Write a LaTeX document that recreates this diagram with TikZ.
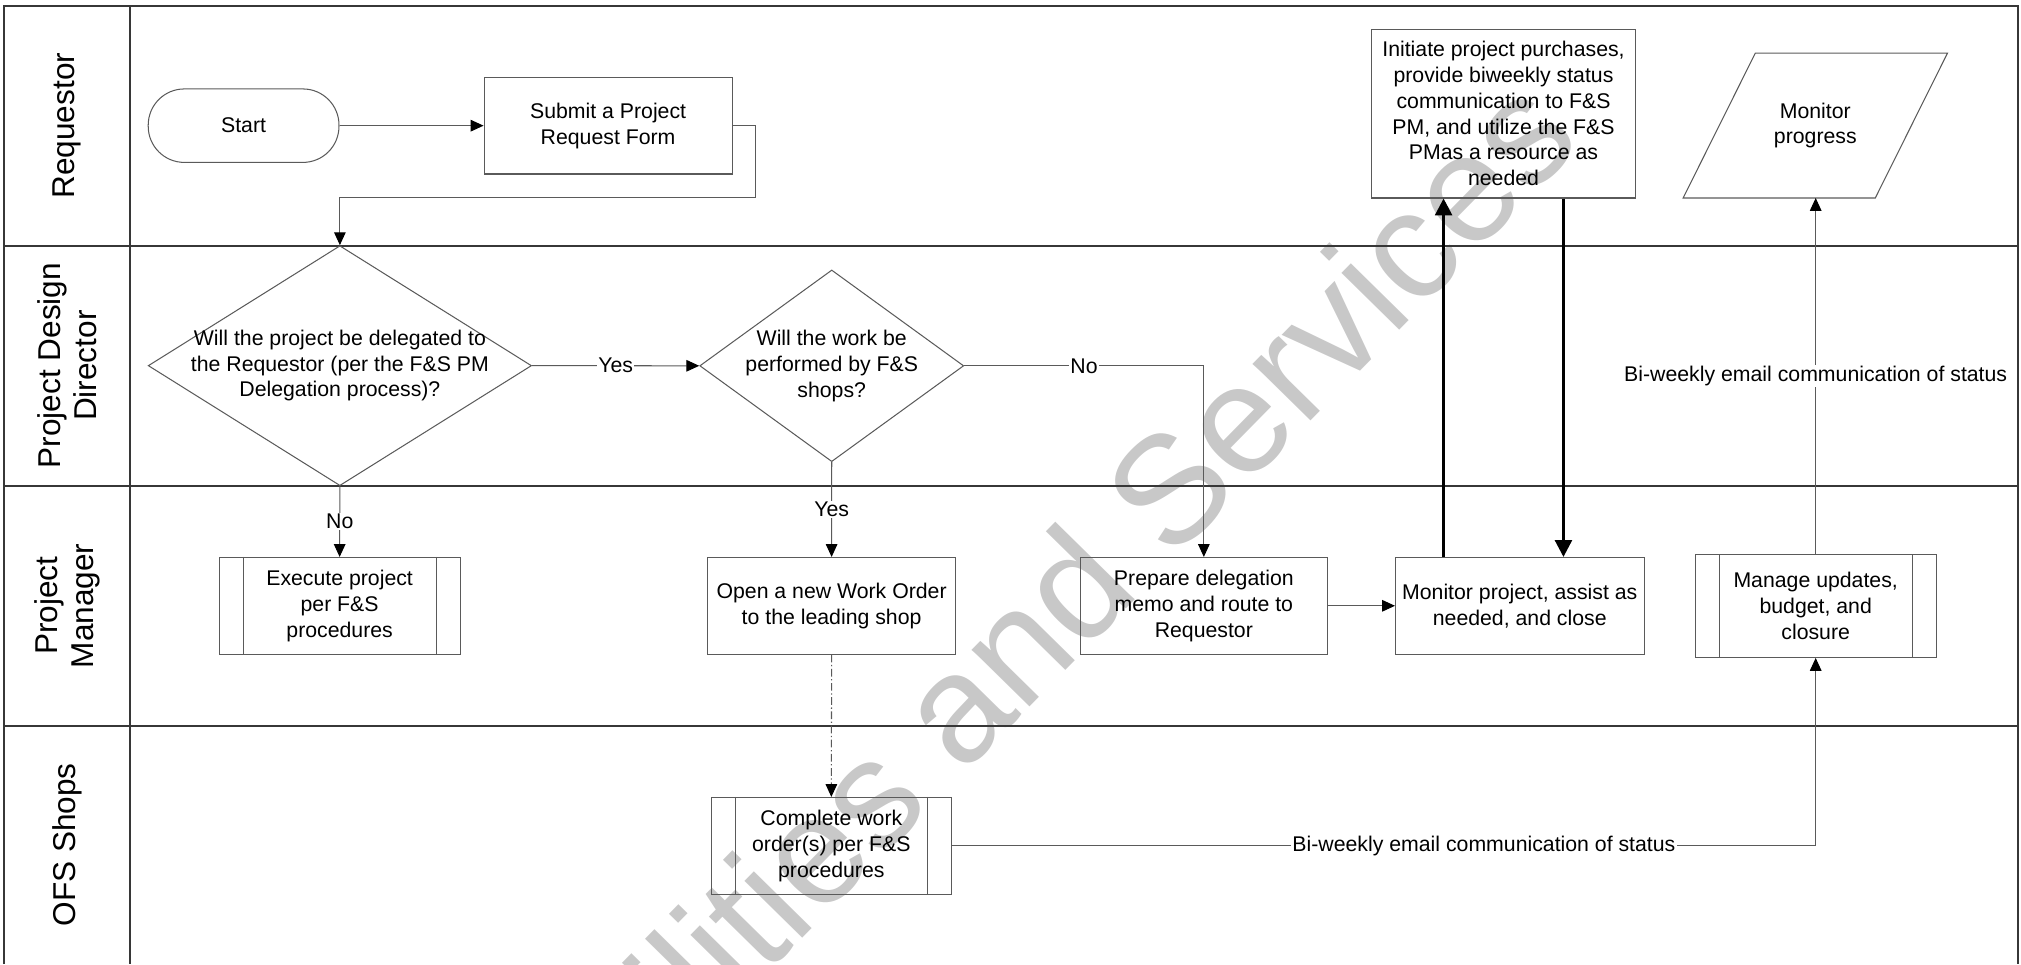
\documentclass[tikz,border=0pt]{standalone}
\usepackage{fontspec}
\setmainfont{Liberation Sans}
\usetikzlibrary{arrows.meta,shapes.geometric,calc}
\definecolor{lanecol}{RGB}{55,55,55}
\definecolor{boxcol}{RGB}{90,90,90}
\definecolor{wmark}{RGB}{200,200,200}
\begin{document}
\begin{tikzpicture}[x=1pt,y=-1pt,
  txt/.style={font=\fontsize{16.5}{20}\selectfont, align=center},
  box/.style={txt, draw=boxcol, line width=0.8pt, rectangle, inner sep=0pt},
  decision/.style={draw=boxcol, line width=0.8pt, diamond, inner sep=0pt},
  conn/.style={draw=boxcol, line width=0.8pt, -{Triangle[length=10pt,width=9pt,color=black]}},
  bigconn/.style={draw=black, line width=2.3pt, -{Triangle[length=13pt,width=13pt]}},
  lbl/.style={txt, fill=white, inner sep=1pt},
  lane/.style={draw=lanecol, line width=1.5pt},
  lanetitle/.style={font=\fontsize{24.5}{28}\selectfont, align=center, rotate=90},
  sub/.style={draw=boxcol, line width=0.8pt}
]
\useasboundingbox (0,0) rectangle (1568,748);

% watermark
\node[text=wmark, font=\fontsize{119}{119}\selectfont, rotate=45.5] (wm) at (784,503) {Facilities and Services};

% swimlane frame
\draw[lane] (3,748) -- (3,4.4) -- (1566,4.4) -- (1566,748);
\draw[lane] (101,4.4) -- (101,748);
\draw[lane] (3,190.6) -- (1566,190.6);
\draw[lane] (3,376.8) -- (1566,376.8);
\draw[lane] (3,563) -- (1566,563);

\node[lanetitle] (l1) at (52,97.5) {Requestor};
\node[lanetitle] (l2) at (52,283.7) {Project Design\\Director};
\node[lanetitle] (l3) at (52,470) {Project\\Manager};
\node[lanetitle] (l4) at (52,655.5) {OFS Shops};

% nodes
\node[box, rounded corners=28pt, minimum width=148pt, minimum height=57pt] (start) at (189,97.5) {Start};
\node[box, minimum width=192.5pt, minimum height=75pt] (submit) at (471.8,97.5) {Submit a Project\\Request Form};
\node[box, minimum width=205pt, minimum height=130.8pt] (init) at (1166.5,88.2)
  {Initiate project purchases,\\provide biweekly status\\communication to F\&S\\PM, and utilize the F\&S\\PMas a resource as\\needed};
\node[txt, minimum width=204.7pt, minimum height=112pt, inner sep=0pt] (mp) at (1408.4,97.4) {Monitor\\progress};
\draw[sub] (mp.south west) -- ($(mp.south east)+(-56,0)$) -- (mp.north east) -- ($(mp.north west)+(56,0)$) -- cycle;

\node[decision, minimum width=297.4pt, minimum height=186.2pt,
  label={[txt]center:Will the project be delegated to\\the Requestor (per the F\&S PM\\Delegation process)?}] (d1) at (263.7,283.7) {};
\node[decision, minimum width=204.8pt, minimum height=148.7pt,
  label={[txt]center:Will the work be\\performed by F\&S\\shops?}] (d2) at (645.3,283.8) {};

\node[box, minimum width=187pt, minimum height=75pt] (exec) at (263.5,470) {Execute project\\per F\&S\\procedures};
\node[box, minimum width=192.4pt, minimum height=75pt] (open) at (645.2,470) {Open a new Work Order\\to the leading shop};
\node[box, minimum width=192pt, minimum height=75pt] (prep) at (934,470) {Prepare delegation\\memo and route to\\Requestor};
\node[box, minimum width=192.8pt, minimum height=75pt] (mon) at (1179.1,470) {Monitor project, assist as\\needed, and close};
\node[box, minimum width=186.7pt, minimum height=79.7pt] (manage) at (1408.7,470.2) {Manage updates,\\budget, and\\closure};
\node[box, minimum width=186pt, minimum height=75pt] (complete) at (645,656.2) {Complete work\\order(s) per F\&S\\procedures};

% subprocess side bars
\foreach \n in {exec,manage,complete}{
  \draw[sub] ([xshift=19pt]\n.north west) -- ([xshift=19pt]\n.south west);
  \draw[sub] ([xshift=-19pt]\n.north east) -- ([xshift=-19pt]\n.south east);
}

% connectors
\coordinate (bend1) at (586,153.4);
\draw[conn] (start) -- (submit);
\draw[conn] (submit.east) -| (bend1) -| (d1.north);
\draw[conn] (d1.east) -- node[lbl]{Yes} (d2.west);
\draw[conn] (d2.east) -| node[lbl, pos=0.25]{No} (prep.north);
\draw[conn] (d1.south) -- node[lbl]{No} (exec.north);
\draw[conn] (d2.south) -- node[lbl]{Yes} (open.north);
\draw[conn, dash pattern=on 6pt off 2pt on 1pt off 2pt] (open.south) -- (complete.north);
\draw[conn] (prep.east) -- (mon.west);
\coordinate (upx) at (1120,0);
\coordinate (dnx) at (1213,0);
\draw[bigconn] (mon.north -| upx) -- (init.south -| upx);
\draw[bigconn] (init.south -| dnx) -- (mon.north -| dnx);
\draw[conn] (manage.north) -- node[lbl]{Bi-weekly email communication of status} (manage.north |- mp.south);
\draw[conn] (complete.east) -| node[lbl, pos=0.308]{Bi-weekly email communication of status} (manage.south);
\end{tikzpicture}
\end{document}
